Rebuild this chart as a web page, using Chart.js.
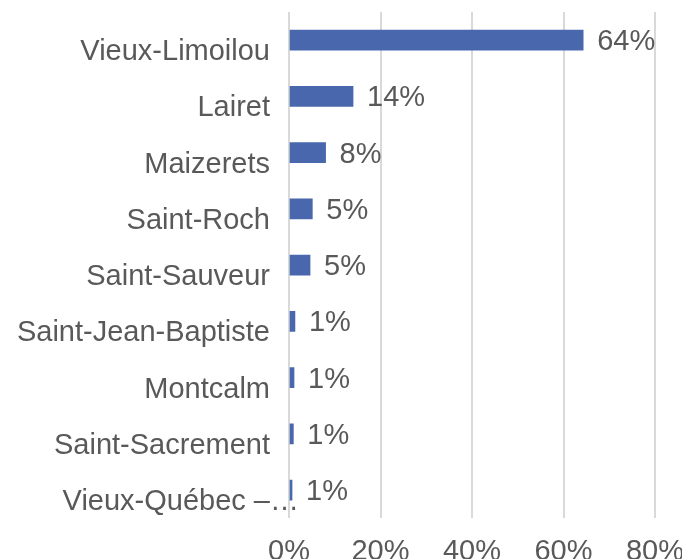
<!DOCTYPE html>
<html>
<head>
<meta charset="utf-8">
<script src="https://cdn.jsdelivr.net/npm/chart.js@4/dist/chart.umd.min.js"></script>
<style>
  html, body { margin: 0; padding: 0; background: #fff; overflow: hidden; }
  #wrap { width: 682px; height: 559px; overflow: hidden; }
</style>
</head>
<body>
<div id="wrap"><canvas id="c" width="682" height="585"></canvas></div>
<script>
const categories = [
  "Vieux-Limoilou",
  "Lairet",
  "Maizerets",
  "Saint-Roch",
  "Saint-Sauveur",
  "Saint-Jean-Baptiste",
  "Montcalm",
  "Saint-Sacrement",
  "Vieux-Québec – Cap-Blanc – colline Parlementaire"
];
const shares = [64.3, 14.0, 8.0, 5.1, 4.6, 1.3, 1.1, 0.95, 0.66];
const xTicks = [0, 20, 40, 60, 80];

const FONT = "'Liberation Sans', Arial, sans-serif";
const TXT = '#595959';
const FS = 29;
const SHORT_MAX = 20;

function shortLabel(s) {
  if (s.length > SHORT_MAX) {
    const i = s.indexOf('–');
    return i > 0 ? s.slice(0, i + 1) : s.slice(0, SHORT_MAX);
  }
  return s;
}

const dataLabels = {
  id: 'dataLabels',
  afterDatasetsDraw(chart) {
    const ctx = chart.ctx;
    const meta = chart.getDatasetMeta(0);
    ctx.save();
    ctx.font = FS + 'px ' + FONT;
    ctx.fillStyle = TXT;
    ctx.textAlign = 'left';
    ctx.textBaseline = 'middle';
    meta.data.forEach((bar, i) => {
      ctx.fillText(Math.round(shares[i]) + '%', bar.x + 14, bar.y + 2);
    });
    ctx.restore();
  }
};

const ellipsis = {
  id: 'ellipsis',
  afterDraw(chart) {
    const y = chart.scales.y;
    const ctx = chart.ctx;
    ctx.save();
    ctx.font = FS + 'px ' + FONT;
    ctx.fillStyle = TXT;
    ctx.textAlign = 'left';
    ctx.textBaseline = 'middle';
    categories.forEach((c, i) => {
      if (shortLabel(c) !== c) {
        ctx.fillText('…', y.right - 19, y.getPixelForTick(i) + 12);
      }
    });
    ctx.restore();
  }
};

new Chart(document.getElementById('c'), {
  type: 'bar',
  data: {
    labels: categories,
    datasets: [{
      data: shares,
      backgroundColor: '#4967AD',
      borderWidth: 0,
      barThickness: 20
    }]
  },
  options: {
    indexAxis: 'y',
    responsive: false,
    animation: false,
    events: [],
    layout: { padding: { top: 12, right: 0, left: 0, bottom: 0 } },
    plugins: { legend: { display: false }, tooltip: { enabled: false } },
    scales: {
      x: {
        min: 0, max: 80,
        afterBuildTicks(scale) { scale.ticks = xTicks.map(v => ({ value: v })); },
        afterFit(scale) { scale.paddingLeft = 0; scale.paddingRight = 27; },
        grid: { color: '#d9d9d9', lineWidth: 2, drawTicks: false },
        border: { display: false },
        ticks: {
          padding: 16,
          color: TXT,
          font: { family: FONT, size: FS },
          callback: v => v + '%'
        }
      },
      y: {
        afterFit(scale) { scale.width = 289; scale.paddingTop = 0; scale.paddingBottom = 0; },
        grid: { display: false, drawTicks: false },
        border: { display: false },
        ticks: {
          padding: 19,
          labelOffset: 12,
          color: TXT,
          font: { family: FONT, size: FS },
          autoSkip: false,
          callback: function (v, i) { return shortLabel(categories[i]); }
        }
      }
    }
  },
  plugins: [dataLabels, ellipsis]
});
</script>
</body>
</html>
